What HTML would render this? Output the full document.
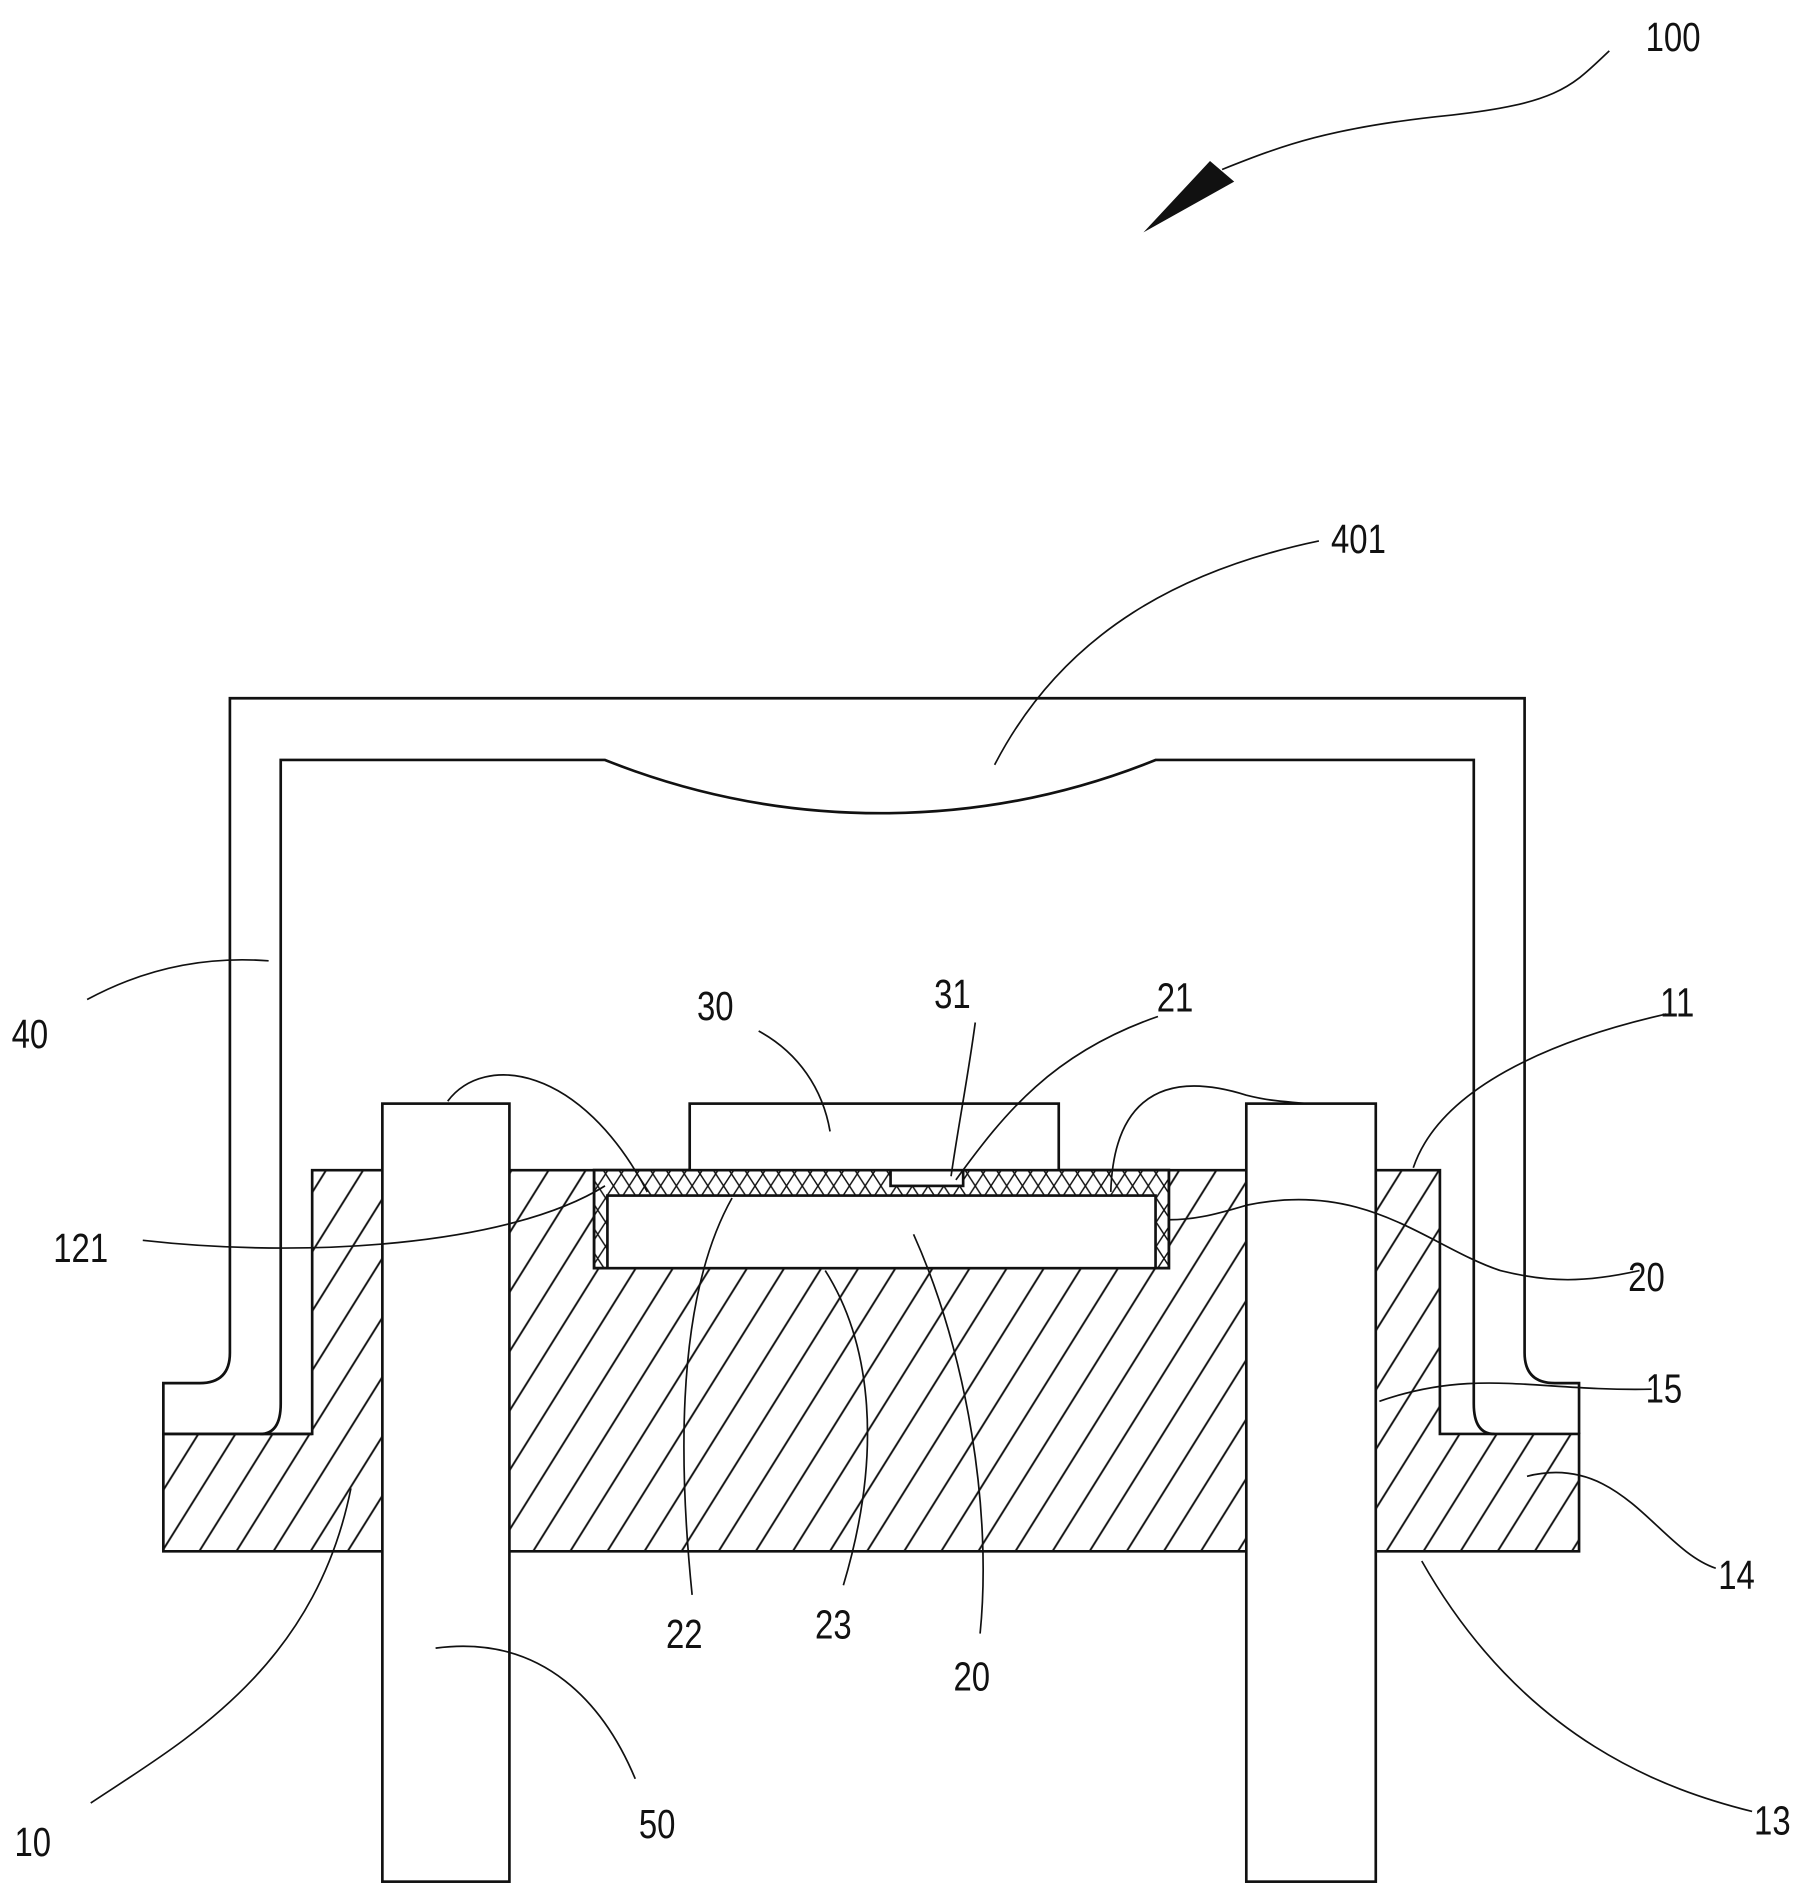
<!DOCTYPE html>
<html><head><style>html,body{margin:0;padding:0;background:#fff}svg{display:block}text{font-family:"Liberation Sans",sans-serif;font-size:34px;fill:#111}</style></head><body>
<svg width="1815" height="1889" viewBox="0 0 1500 1561" xmlns="http://www.w3.org/2000/svg">
<defs>
<pattern id="h" width="26" height="26" patternUnits="userSpaceOnUse" patternTransform="rotate(32)"><line x1="13" y1="-5" x2="13" y2="31" stroke="#111" stroke-width="1.6"/></pattern>
<pattern id="x" width="13" height="20" patternUnits="userSpaceOnUse"><path d="M0 0L13 20M13 0L0 20" stroke="#111" stroke-width="1.2"/></pattern>
</defs>
<g fill="none" stroke="#111" stroke-width="2.2">
<!-- base -->
<path d="M258 967H1190V1185H1305V1282H135V1185H258Z" fill="url(#h)"/>
<!-- cavity -->
<rect x="491" y="967" width="475" height="81" fill="#fff"/>
<rect x="491" y="967" width="475" height="81" fill="url(#x)"/>
<rect x="502" y="988" width="453" height="60" fill="#fff"/>
<rect x="736" y="967" width="60" height="13" fill="#fff"/>
<!-- pins -->
<rect x="316" y="912" width="105" height="643" fill="#fff"/>
<rect x="1030" y="912" width="107" height="643" fill="#fff"/>
<!-- chip -->
<rect x="570" y="912" width="305" height="55" fill="#fff"/>
<!-- cover -->
<path d="M258 1185H135V1143H165Q190 1143 190 1118V577H1260V1118Q1260 1143 1285 1143H1305V1185"/>
<path d="M215 1185Q232 1185 232 1160V628H500Q610 672 728 672Q846 672 955 628H1218V1160Q1218 1185 1235 1185"/>
</g>
<g fill="none" stroke="#111" stroke-width="1.4">
<path d="M1330 42C1300 70 1290 85 1200 95C1100 105 1060 120 1010 140"/>
<path d="M1090 447C980 470 880 520 822 632"/>
<path d="M72 826C120 800 170 790 222 794"/>
<path d="M627 852C660 870 680 900 686 935"/>
<path d="M806 845C800 890 792 930 786 972"/>
<path d="M957 840C870 870 830 920 790 975"/>
<path d="M1377 838C1280 860 1190 900 1168 965"/>
<path d="M118 1025C250 1040 420 1030 500 980"/>
<path d="M370 910C400 870 480 880 535 985"/>
<path d="M918 985C920 920 950 880 1030 905C1050 910 1060 910 1080 912"/>
<path d="M1355 1050C1310 1060 1280 1060 1240 1050C1180 1030 1130 975 1030 996C1000 1005 985 1008 966 1008"/>
<path d="M1365 1148C1270 1150 1220 1130 1140 1158"/>
<path d="M1418 1296C1370 1280 1340 1200 1262 1220"/>
<path d="M1448 1497C1380 1480 1260 1440 1175 1290"/>
<path d="M75 1490C150 1440 260 1380 290 1230"/>
<path d="M525 1470C500 1410 450 1350 360 1362"/>
<path d="M572 1318C560 1200 560 1070 605 990"/>
<path d="M697 1310C730 1200 720 1110 682 1050"/>
<path d="M810 1350C820 1250 800 1120 755 1020"/>
</g>
<path d="M945 192L1000 133L1020 150Z" fill="#111"/>
<g transform="scale(0.8,1)">
<text x="1700" y="42">100</text>
<text x="1375" y="457">401</text>
<text x="12" y="866">40</text>
<text x="720" y="843">30</text>
<text x="965" y="833">31</text>
<text x="1195" y="836">21</text>
<text x="1715" y="840">11</text>
<text x="55" y="1043">121</text>
<text x="1682" y="1067">20</text>
<text x="1700" y="1159">15</text>
<text x="1775" y="1313">14</text>
<text x="688" y="1362">22</text>
<text x="842" y="1354">23</text>
<text x="985" y="1397">20</text>
<text x="15" y="1534">10</text>
<text x="660" y="1519">50</text>
<text x="1812" y="1516">13</text>
</g>
</svg>
</body></html>
